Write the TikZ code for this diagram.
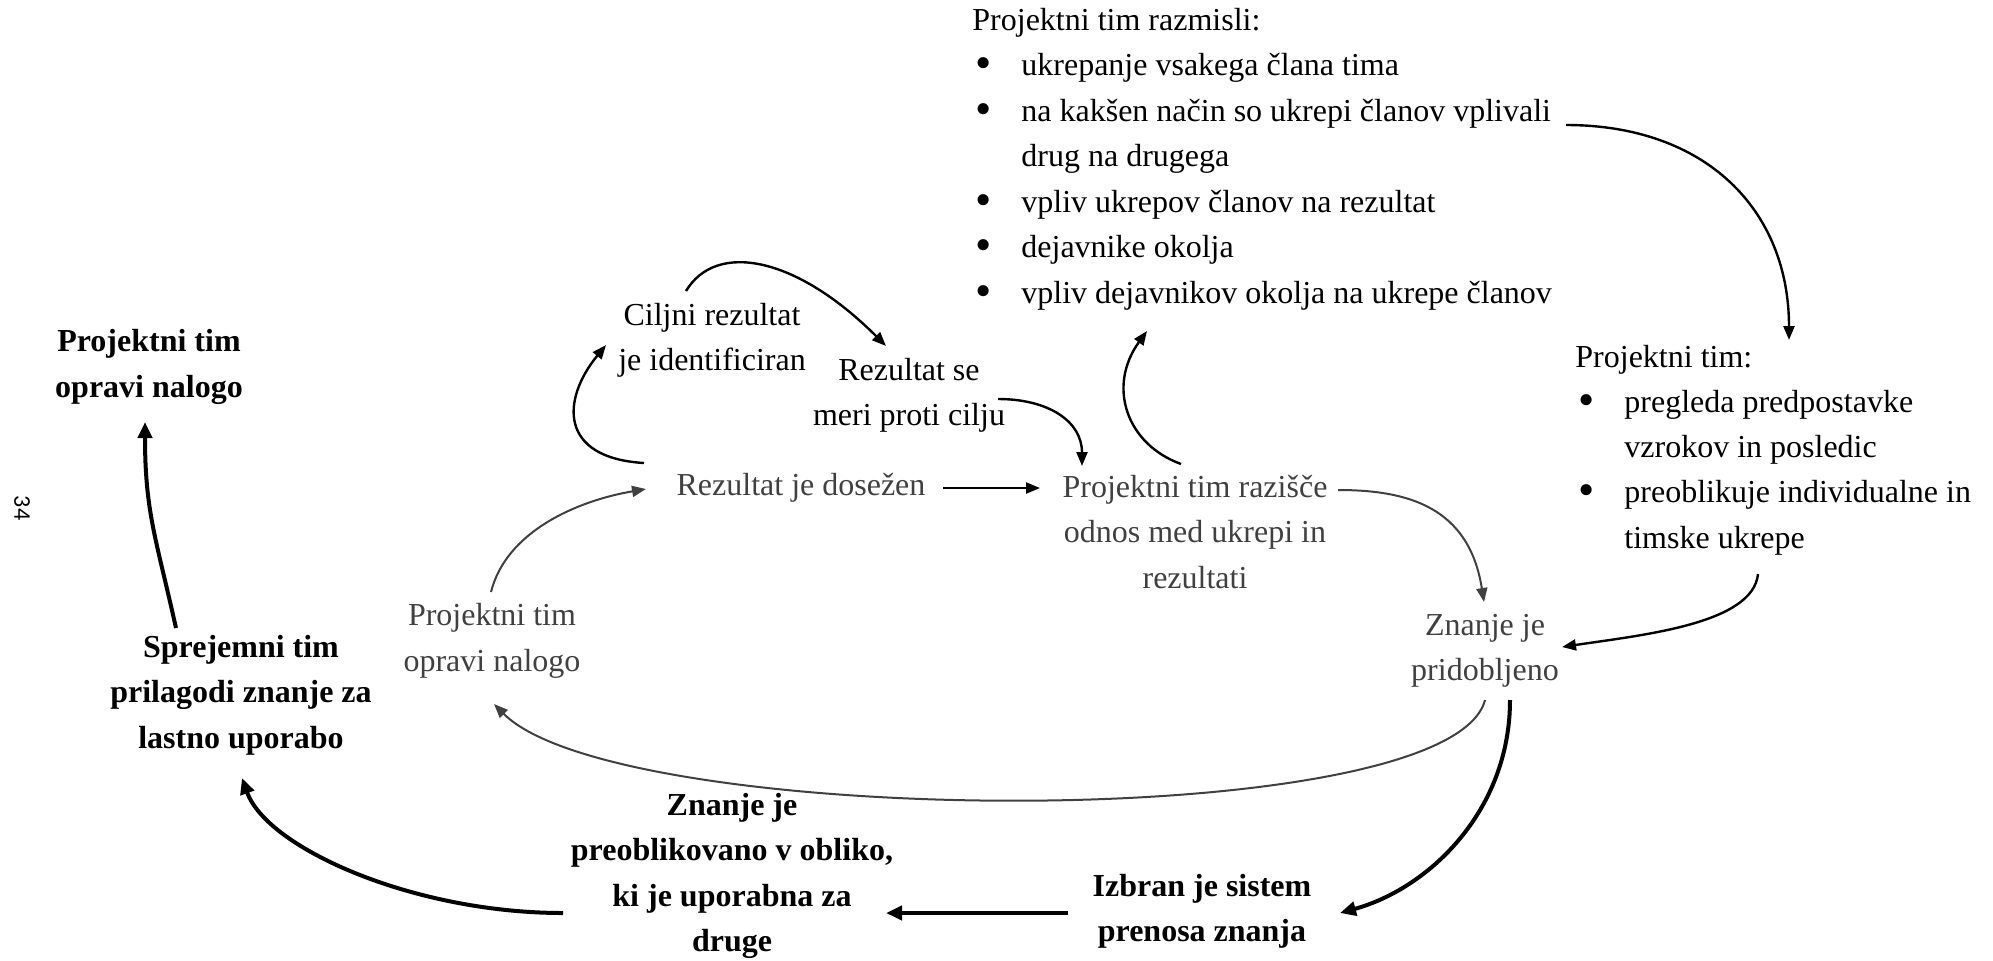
\documentclass[tikz,border=0pt]{standalone}
\usepackage{fontspec}
\setmainfont{Liberation Serif}
\newfontfamily\pgnumfont{Carlito}
\usetikzlibrary{arrows.meta,calc}
\definecolor{gtxt}{HTML}{404040}
\newcommand\lbul{\hspace*{1.5pt}\makebox[23pt][l]{\raisebox{-1.6pt}{\scalebox{1.45}{•}}}}
\begin{document}
\begin{tikzpicture}[x=0.5pt,y=-0.5pt,
  tx/.style={font=\fontsize{16pt}{22.7pt}\selectfont, align=center, inner sep=0pt},
  btx/.style={tx, font=\fontsize{16pt}{22.7pt}\selectfont\bfseries},
  gtx/.style={tx, text=gtxt},
  lst/.style={font=\fontsize{16pt}{22.7pt}\selectfont, anchor=base west, inner sep=0pt},
  arr/.style={-{Triangle[length=7pt,width=5.5pt]}, line width=1.2pt},
  garr/.style={-{Triangle[length=7pt,width=5.5pt]}, line width=1pt, color=gtxt},
  barr/.style={-{Triangle[length=8pt,width=7pt]}, line width=2pt}]
\useasboundingbox (0,0) rectangle (1993,960);

% nodes
\node[btx] (ptim) at (149,367) {Projektni tim\\opravi nalogo};
\node[btx] (sprej) at (241,695) {Sprejemni tim\\prilagodi znanje za\\lastno uporabo};
\node[gtx] (pgrey) at (492,641) {Projektni tim\\opravi nalogo};
\node[gtx] (rez) at (801,488) {Rezultat je dosežen};
\node[tx] (cilj) at (712,340) {Ciljni rezultat\\je identificiran};
\node[tx] (merj) at (909,395) {Rezultat se\\meri proti cilju};
\node[gtx] (raz) at (1195,532) {Projektni tim razišče\\odnos med ukrepi in\\rezultati};
\node[gtx] (znanje) at (1485,651) {Znanje je\\pridobljeno};
\node[btx] (izbran) at (1202,911) {Izbran je sistem\\prenosa znanja};
\node[btx] (preob) at (732,876) {Znanje je\\preoblikovano v obliko,\\ki je uporabna za\\druge};
\node[font=\pgnumfont\fontsize{12pt}{14pt}\selectfont, rotate=-90, inner sep=0pt] (pg) at (22,508) {34};

% top list
\node[lst] (tl0) at (972,30) {Projektni tim razmisli:};
\node[lst] (tl1) at (972,75.5) {\lbul ukrepanje vsakega člana tima};
\node[lst] (tl2) at (972,121) {\lbul na kakšen način so ukrepi članov vplivali};
\node[lst] (tl3) at (1021,166.5) {drug na drugega};
\node[lst] (tl4) at (972,212) {\lbul vpliv ukrepov članov na rezultat};
\node[lst] (tl5) at (972,257.5) {\lbul dejavnike okolja};
\node[lst] (tl6) at (972,303) {\lbul vpliv dejavnikov okolja na ukrepe članov};

% right list
\node[lst] (rl0) at (1575,367) {Projektni tim:};
\node[lst] (rl1) at (1575,412) {\lbul pregleda predpostavke};
\node[lst] (rl2) at (1624,457) {vzrokov in posledic};
\node[lst] (rl3) at (1575,502) {\lbul preoblikuje individualne in};
\node[lst] (rl4) at (1624,548) {timske ukrepe};

% connectors
\draw[barr] ($(sprej.center)+(-65,-67)$) .. controls +(-20,-90) and +(0,90) .. ($(ptim.center)+(-4,55)$);
\draw[garr] ($(pgrey.center)+(-1,-49)$) .. controls +(15,-60) and +(-70,12) .. ($(rez.center)+(-155,1)$);
\draw[arr] ($(rez.center)+(-157,-25)$) .. controls +(-85,-5) and +(-45,55) .. ($(cilj.center)+(-106,5)$);
\draw[arr] ($(cilj.center)+(-26,-49)$) .. controls +(30,-50) and +(-90,-90) .. ($(merj.center)+(-23,-49)$);
\draw[arr] ($(merj.center)+(89,4)$) .. controls +(50,0) and +(0,-45) .. ($(raz.center)+(-113,-66)$);
\draw[arr] ($(rez.center)+(142,0)$) -- ($(raz.center)+(-155,-44)$);
\draw[arr] ($(raz.center)+(-14,-68)$) .. controls +(-55,-20) and +(-40,55) .. ($(tl6.base west)+(175,28)$);
\draw[garr] ($(raz.center)+(143,-42)$) .. controls +(70,0) and +(-15,-95) .. ($(znanje.center)+(-1,-49)$);
\draw[arr] ($(tl2.base west)+(594,4)$) .. controls +(140,0) and +(0,-130) .. ($(rl0.base west)+(214,-27)$);
\draw[arr] ($(rl4.base west)+(134,26)$) .. controls +(-5,50) and +(80,-12) .. ($(znanje.center)+(77,-4)$);
\draw[garr] ($(znanje.center)+(0,49)$) .. controls +(-35,135) and +(124,125) .. ($(pgrey.center)+(2,63)$);
\draw[barr] ($(znanje.center)+(25,49)$) .. controls +(0,110) and +(90,-25) .. ($(izbran.center)+(138,2)$);
\draw[barr] ($(izbran.center)+(-134,2)$) -- ($(preob.center)+(154,37)$);
\draw[barr] ($(preob.center)+(-169,37)$) .. controls +(-150,0) and +(25,70) .. ($(sprej.center)+(1,83)$);
\end{tikzpicture}
\end{document}
